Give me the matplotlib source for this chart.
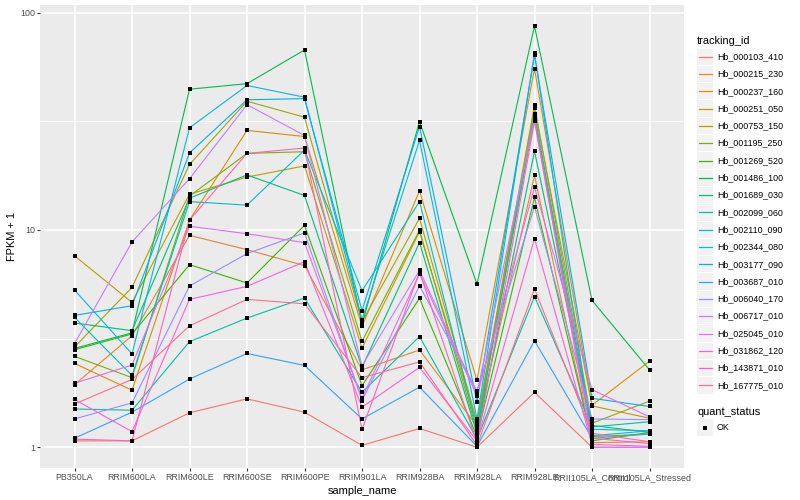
import numpy as np
import matplotlib
matplotlib.use('Agg')
import matplotlib.pyplot as plt
from matplotlib.patches import Rectangle
from matplotlib.lines import Line2D

plt.rcParams['font.family'] = ['Liberation Sans', 'DejaVu Sans']

samples = ['PB350LA', 'RRIM600LA', 'RRIM600LE', 'RRIM600SE', 'RRIM600PE', 'RRIM901LA',
           'RRIM928BA', 'RRIM928LA', 'RRIM928LE', 'RRII105LA_Control', 'RRII105LA_Stressed']

tracking_ids = ['Hb_000103_410', 'Hb_000215_230', 'Hb_000237_160', 'Hb_000251_050',
                'Hb_000753_150', 'Hb_001195_250', 'Hb_001269_520', 'Hb_001486_100',
                'Hb_001689_030', 'Hb_002099_060', 'Hb_002110_090', 'Hb_002344_080',
                'Hb_003177_090', 'Hb_003687_010', 'Hb_006040_170', 'Hb_006717_010',
                'Hb_025045_010', 'Hb_031862_120', 'Hb_143871_010', 'Hb_167775_010']

# FPKM + 1 per gene, one value per sample
fpkm = [
    [1.07, 1.07, 1.44, 1.67, 1.45, 1.02, 1.22, 1.00, 1.79, 1.00, 1.00],
    [1.94, 3.26, 9.44, 8.11, 6.85, 2.27, 2.80, 1.25, 17.8, 1.05, 1.06],
    [2.43, 1.83, 11.1, 28.7, 26.9, 3.60, 15.1, 2.03, 55.2, 1.56, 2.49],
    [7.60, 4.64, 14.6, 17.5, 19.7, 2.86, 9.80, 1.28, 36.2, 1.55, 1.36],
    [2.89, 5.44, 20.0, 39.1, 33.0, 3.78, 11.3, 1.31, 37.4, 1.29, 1.63],
    [2.62, 2.09, 14.3, 22.5, 22.9, 3.07, 9.96, 1.19, 33.4, 1.12, 1.15],
    [2.81, 3.32, 6.92, 5.70, 10.5, 1.92, 4.84, 1.12, 14.1, 1.07, 1.17],
    [2.85, 3.36, 44.4, 47.1, 67.3, 3.69, 31.5, 5.64, 86.7, 4.74, 2.27],
    [3.73, 3.44, 14.0, 17.9, 14.4, 2.33, 8.74, 1.15, 23.0, 1.26, 1.17],
    [1.50, 1.48, 3.06, 3.93, 4.86, 1.79, 3.23, 1.09, 4.93, 1.24, 1.31],
    [3.96, 2.14, 13.5, 13.0, 23.3, 5.25, 13.5, 1.21, 34.2, 1.21, 1.19],
    [5.29, 2.69, 29.5, 46.2, 40.8, 3.86, 25.8, 1.35, 64.9, 1.13, 1.19],
    [4.04, 4.48, 22.6, 39.7, 40.2, 4.25, 29.9, 1.61, 63.8, 1.68, 1.54],
    [1.10, 1.45, 2.06, 2.70, 2.38, 1.35, 1.89, 1.01, 3.09, 1.10, 1.15],
    [1.35, 1.60, 5.52, 7.78, 9.70, 1.64, 5.52, 1.82, 12.8, 1.35, 1.34],
    [3.00, 8.80, 17.2, 37.7, 27.2, 2.37, 6.51, 1.77, 32.5, 1.00, 1.00],
    [1.97, 2.39, 10.4, 9.60, 8.74, 1.68, 6.29, 1.73, 15.7, 1.84, 1.38],
    [1.66, 1.18, 4.79, 5.50, 7.14, 1.53, 2.33, 1.07, 9.12, 1.03, 1.01],
    [1.09, 1.07, 11.1, 22.5, 23.8, 1.21, 6.40, 1.05, 31.6, 1.10, 1.04],
    [1.58, 2.05, 3.62, 4.79, 4.57, 2.09, 2.47, 1.02, 5.35, 1.16, 1.06],
]

quant_levels = ['OK']

# ggplot hue palette, 20 levels
colors = ['#F8766D', '#EA8331', '#D89000', '#C09B00', '#A3A500', '#7CAE00', '#39B600',
          '#00BB4E', '#00BF7D', '#00C1A3', '#00BFC4', '#00BAE0', '#00B0F6', '#35A2FF',
          '#9590FF', '#C77CFF', '#E76BF3', '#FA62DB', '#FF62BC', '#FF6C91']

W, H = 800, 500
fig = plt.figure(figsize=(8, 5), dpi=100)

def fx(px):
    return px / W

def fy(py):
    return 1 - py / H

# panel
pl, pr, pt, pb = 40, 684, 5, 468.3
ax = fig.add_axes([fx(pl), fy(pb), fx(pr - pl), (pb - pt) / H])
ax.set_facecolor('#EBEBEB')
for s in ax.spines.values():
    s.set_visible(False)

x = np.arange(len(samples))
ax.set_yscale('log')

for vals, c in zip(fpkm, colors):
    ax.plot(x, vals, color=c, lw=0.8, zorder=2, solid_capstyle='butt')
for vals in fpkm:
    ax.plot(x, vals, 's', color='black', ms=2.8, mew=0, zorder=3)

allv = np.log10(np.array(fpkm))
lo, hi = allv.min(), allv.max()
pad = (hi - lo) * 0.05
ax.set_ylim(10 ** (lo - pad), 10 ** (hi + pad))
ax.set_xlim(-0.6, len(samples) - 0.4)

ax.set_yticks([1, 10, 100])
ax.set_yticklabels(['1', '10', '100'])
ax.set_yticks([10 ** 0.5, 10 ** 1.5], minor=True)
ax.yaxis.set_minor_formatter(plt.NullFormatter())
ax.set_xticks(x)
ax.set_xticklabels(samples)

ax.grid(True, which='major', color='white', lw=1.1, zorder=0)
ax.grid(True, which='minor', axis='y', color='white', lw=0.55, zorder=0)
ax.set_axisbelow(True)
ax.tick_params(which='major', length=2.0, width=0.8, color='#333333',
               labelcolor='#4D4D4D', labelsize=6.4, pad=1.6)
ax.tick_params(which='minor', length=0)

fig.text(fx((pl + pr) / 2), fy(491), 'sample_name', ha='center', va='center',
         fontsize=7.9, color='black')
fig.text(fx(12), fy((pt + pb) / 2), 'FPKM + 1', ha='center', va='center',
         rotation=90, fontsize=7.9, color='black')

# legend: tracking_id
lx = 697
key = 17.3
fig.text(fx(lx), fy(40.5), 'tracking_id', ha='left', va='center', fontsize=7.9)
for i, (name, c) in enumerate(zip(tracking_ids, colors)):
    yc = 56.7 + key * i
    fig.add_artist(Rectangle((fx(lx), fy(yc + key / 2 - 0.5)), fx(key - 1), (key - 1) / H,
                             transform=fig.transFigure, facecolor='#F2F2F2',
                             edgecolor='none', zorder=1))
    fig.add_artist(Line2D([fx(lx + 1.7), fx(lx + key - 2.7)], [fy(yc), fy(yc)],
                          transform=fig.transFigure, color=c, lw=0.9, zorder=3))
    fig.text(fx(lx + 20), fy(yc), name, ha='left', va='center', fontsize=6.4)

# legend: quant_status
fig.text(fx(lx), fy(412), 'quant_status', ha='left', va='center', fontsize=7.9)
for i, name in enumerate(quant_levels):
    yc = 427.5 + key * i
    fig.add_artist(Rectangle((fx(lx), fy(yc + key / 2 - 0.5)), fx(key - 1), (key - 1) / H,
                             transform=fig.transFigure, facecolor='#F2F2F2',
                             edgecolor='none', zorder=1))
    fig.add_artist(Line2D([fx(lx + key / 2 - 0.5)], [fy(yc)], transform=fig.transFigure,
                          marker='s', ms=2.8, mew=0, color='black', lw=0, zorder=3))
    fig.text(fx(lx + 20), fy(yc), name, ha='left', va='center', fontsize=6.4)

fig.savefig('out.png', dpi=100)
